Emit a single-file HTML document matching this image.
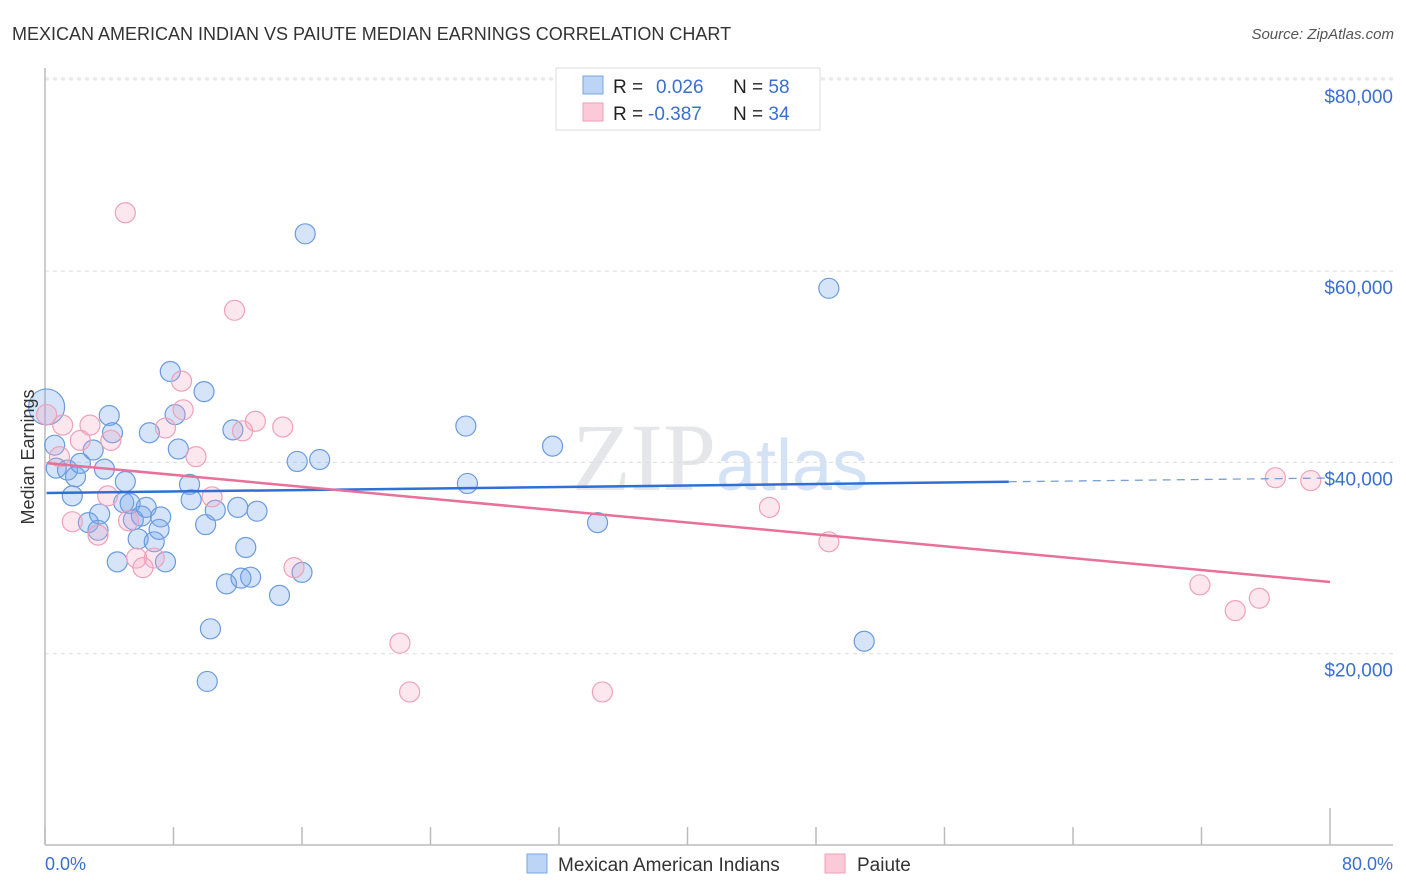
<!DOCTYPE html>
<html><head><meta charset="utf-8">
<style>
body{margin:0;background:#fff;font-family:"Liberation Sans",sans-serif;}
svg{display:block}
</style></head>
<body>
<svg id="chart" width="1406" height="892" viewBox="0 0 1406 892">
<text x="12" y="40" font-size="18" fill="#333">MEXICAN AMERICAN INDIAN VS PAIUTE MEDIAN EARNINGS CORRELATION CHART</text>
<text x="1394" y="39" font-size="15" fill="#555" font-style="italic" text-anchor="end">Source: ZipAtlas.com</text>
<text x="720" y="490" font-size="96" fill="#e4e6ea" text-anchor="middle" font-family="Liberation Serif,serif">ZIP<tspan fill="#d3e2f4" font-family="Liberation Sans,sans-serif" font-size="72">atlas</tspan></text>
<g id="grid"></g>
<g id="axes"></g>
<g id="pts"></g>
<g id="trends"></g>
<text transform="translate(34,457) rotate(-90)" font-size="18" fill="#333" text-anchor="middle">Median Earnings</text>
<text x="45" y="870" font-size="18" fill="#3a6fd0">0.0%</text>
<text x="1393" y="870" font-size="18" fill="#3a6fd0" text-anchor="end">80.0%</text>
<g>
<rect x="556" y="68" width="264" height="62" fill="#fff" stroke="#ddd"/>
<rect x="583" y="76" width="20" height="18" fill="#bcd4f6" stroke="#7aa6e6"/>
<rect x="583" y="103" width="20" height="18" fill="#fcc9d8" stroke="#f0a0b8"/>
<text x="613" y="93" font-size="19" fill="#222">R = <tspan fill="#3a6fd0" x="656">0.026</tspan><tspan x="733" fill="#222">N = </tspan><tspan fill="#3a6fd0">58</tspan></text>
<text x="613" y="120" font-size="19" fill="#222">R = <tspan fill="#3a6fd0" x="648">-0.387</tspan><tspan x="733" fill="#222">N = </tspan><tspan fill="#3a6fd0">34</tspan></text>
</g>
<g>
<rect x="527" y="854" width="20" height="19" fill="#bcd4f6" stroke="#7aa6e6"/>
<text x="558" y="871" font-size="19" fill="#333">Mexican American Indians</text>
<rect x="825" y="854" width="20" height="19" fill="#fcc9d8" stroke="#f0a0b8"/>
<text x="857" y="871" font-size="19" fill="#333">Paiute</text>
</g>
</svg>
<script>
const yTicks=[20000,40000,60000,80000];
const yTickLabels=["$20,000","$40,000","$60,000","$80,000"];
const xTicks=[0,8,16,24,32,40,48,56,64,72,80];
const blueX=[0.1,0.6,0.7,1.4,1.9,1.7,2.2,3.0,3.7,4.0,4.2,2.7,3.4,3.3,4.5,5.0,4.9,5.3,5.5,6.0,6.3,5.8,6.8,7.1,7.2,7.5,6.5,7.8,8.1,8.3,9.0,9.1,10.0,9.9,10.6,10.3,10.1,11.3,11.7,12.0,12.2,12.5,12.8,13.2,14.6,15.7,16.0,16.2,17.1,26.2,26.3,31.6,34.4,48.8,51.0];
const blueY=[45800,41800,39400,39200,38500,36500,39900,41300,39300,44900,43100,33700,34600,32900,29600,38000,35800,35700,34000,34400,35300,32000,31700,33000,34300,29600,43100,49500,45000,41400,37700,36100,33500,47400,35000,22600,17100,27300,43400,35300,27900,31100,28000,34900,26100,40100,28500,63900,40300,43800,37800,41700,33700,58200,21300];
const pinkX=[0.1,1.1,0.9,1.7,2.2,2.8,3.3,3.9,4.1,5.0,5.2,5.7,6.1,6.8,7.5,8.5,8.6,9.4,10.4,11.8,12.3,13.1,14.8,15.5,22.1,22.7,34.7,45.1,48.8,71.9,74.1,75.6,76.6,78.8];
const pinkY=[45000,43900,40600,33800,42300,43900,32400,36500,42300,66100,33900,30000,29000,30000,43600,48500,45500,40600,36400,55900,43300,44300,43700,29000,21100,16000,16000,35300,31700,27200,24500,25800,38400,38100];
const blueTrend=[36800,38370];
const pinkTrend=[39940,27500];
const NS="http://www.w3.org/2000/svg";
const X0=45,X1=1330,Y0=845,PX=191.3/20000;
function sx(v){return X0+(X1-X0)*v/80;}
function sy(v){return Y0-v*PX;}
function mk(tag,attrs,parent){const e=document.createElementNS(NS,tag);for(const k in attrs)e.setAttribute(k,attrs[k]);document.getElementById(parent).appendChild(e);return e;}
yTicks.forEach((t,i)=>{
 const l=mk('line',{x1:45,x2:1393,y1:sy(t),y2:sy(t),stroke:'#ddd','stroke-dasharray':'4,4'},'grid');
 
 
 const tx=mk('text',{x:1393,y:sy(t)+23,'font-size':19,fill:'#3a6fd0','text-anchor':'end'},'grid');
 tx.textContent=yTickLabels[i];
 
 
});
const tl=mk('line',{x1:45,x2:1393,y1:78,y2:78,stroke:'#ddd','stroke-dasharray':'4,4'},'grid');


const ya=mk('line',{x1:45,x2:45,y1:68,y2:845,stroke:'#bbb','stroke-width':1.5},'axes');


const xa=mk('line',{x1:45,x2:1393,y1:845,y2:845,stroke:'#bbb','stroke-width':1.5},'axes');


xTicks.forEach((t,i)=>{
 const l=mk('line',{x1:sx(t),x2:sx(t),y1:(i==xTicks.length-1?808:827),y2:845,stroke:'#bbb','stroke-width':1.5},'axes');
 
 
});
blueX.forEach((x,i)=>{
 const c=mk('circle',{cx:sx(x),cy:sy(blueY[i]),r:(i==0?18:10),fill:'rgba(120,165,235,0.3)',stroke:'#6a9be0','stroke-width':1.2},'pts');
 
 
});
pinkX.forEach((x,i)=>{
 const c=mk('circle',{cx:sx(x),cy:sy(pinkY[i]),r:10,fill:'rgba(245,160,190,0.25)',stroke:'#f0a0b8','stroke-width':1.2},'pts');
 
 
});
function lerp(a,x){return a[0]+(a[1]-a[0])*x/80;}
const b1=mk('line',{x1:sx(0.1),y1:sy(lerp(blueTrend,0.1)),x2:sx(60),y2:sy(lerp(blueTrend,60)),stroke:'#2f6fd6','stroke-width':2.5},'trends');


const b2=mk('line',{x1:sx(60),y1:sy(lerp(blueTrend,60)),x2:sx(80),y2:sy(lerp(blueTrend,80)),stroke:'#7a9ed6','stroke-width':1.3,'stroke-dasharray':'8,6'},'trends');


const p1=mk('line',{x1:sx(0.1),y1:sy(lerp(pinkTrend,0.1)),x2:sx(80),y2:sy(lerp(pinkTrend,80)),stroke:'#e8709a','stroke-width':2.5},'trends');


</script>
</body></html>
